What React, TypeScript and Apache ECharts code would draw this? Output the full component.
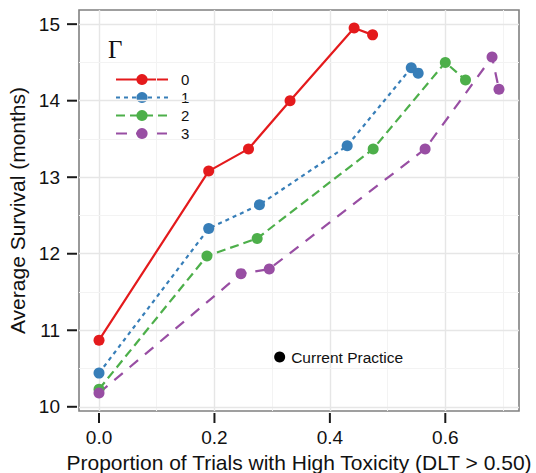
import React, { useEffect, useRef } from "react";
import * as echarts from "echarts";

const seriesNames = ["0", "1", "2", "3"];
const seriesColors = ["#E41A1C", "#377EB8", "#4DAF4A", "#984EA3"];
const seriesDashes: (string | number[])[] = ["solid", [4, 4], [9, 5], [11, 9]];

const gamma0X = [0.0, 0.19, 0.259, 0.331, 0.442, 0.474];
const gamma0Y = [10.87, 13.08, 13.37, 14.0, 14.95, 14.86];
const gamma1X = [0.0, 0.19, 0.278, 0.43, 0.541, 0.553];
const gamma1Y = [10.44, 12.33, 12.64, 13.41, 14.43, 14.36];
const gamma2X = [0.0, 0.187, 0.274, 0.475, 0.6, 0.635];
const gamma2Y = [10.23, 11.97, 12.2, 13.37, 14.5, 14.27];
const gamma3X = [0.0, 0.246, 0.295, 0.565, 0.681, 0.693];
const gamma3Y = [10.18, 11.74, 11.8, 13.37, 14.57, 14.15];

const currentPracticeX = [0.313];
const currentPracticeY = [10.65];
const currentPracticeLabel = "Current Practice";

const xTicks = [0, 0.2, 0.4, 0.6];
const xMinorGrid = [0.1, 0.3, 0.5, 0.7];
const yTicks = [10, 11, 12, 13, 14, 15];
const yMinorGrid = [10.5, 11.5, 12.5, 13.5, 14.5];
const xRange = [-0.0347, 0.7277];
const yRange = [9.945, 15.185];

const xTitle = "Proportion of Trials with High Toxicity (DLT > 0.50)";
const yTitle = "Average Survival (months)";
const legendTitle = "Γ";

const FONT = "'Liberation Sans', Arial, Helvetica, sans-serif";

export default function App() {
  const ref = useRef<HTMLDivElement>(null);
  useEffect(() => {
    if (!ref.current) return;
    const chart = echarts.init(ref.current, undefined, { renderer: "svg" });
    const xs = [gamma0X, gamma1X, gamma2X, gamma3X];
    const ys = [gamma0Y, gamma1Y, gamma2Y, gamma3Y];

    const gridLines: any[] = [];
    xTicks.forEach((v) => gridLines.push({ xAxis: v, lineStyle: { color: "#e6e6e6", width: 1.4, type: "solid" } }));
    xMinorGrid.forEach((v) => gridLines.push({ xAxis: v, lineStyle: { color: "#f3f3f3", width: 1, type: "solid" } }));
    yTicks.forEach((v) => gridLines.push({ yAxis: v, lineStyle: { color: "#e6e6e6", width: 1.4, type: "solid" } }));
    yMinorGrid.forEach((v) => gridLines.push({ yAxis: v, lineStyle: { color: "#f3f3f3", width: 1, type: "solid" } }));

    const dataSeries = seriesNames.map((name, i) => ({
      name,
      type: "line",
      data: xs[i].map((x, j) => [x, ys[i][j]]),
      symbol: "circle",
      symbolSize: 11,
      showSymbol: true,
      color: seriesColors[i],
      itemStyle: { color: seriesColors[i], opacity: 1 },
      lineStyle: { color: seriesColors[i], width: 2.2, type: seriesDashes[i] },
      z: 5,
    }));

    const tickStyle = { stroke: "#1a1a1a", lineWidth: 2 };

    const option: any = {
      animation: false,
      textStyle: { fontFamily: FONT },
      grid: {
        left: 79,
        right: 17,
        top: 10,
        bottom: 62,
        show: true,
        borderColor: "#808080",
        borderWidth: 1.6,
        backgroundColor: "transparent",
        containLabel: false,
        outerBoundsMode: "none",
      },
      legend: {
        orient: "vertical",
        left: 110,
        top: 67,
        itemWidth: 52,
        itemHeight: 14,
        itemGap: 3,
        data: seriesNames,
        textStyle: { fontSize: 15, lineHeight: 14, color: "#111", fontFamily: FONT, padding: [0, 0, 0, 8] },
      },
      graphic: [
        {
          type: "text",
          left: 108,
          top: 37,
          style: { text: legendTitle, font: "25px 'Liberation Serif', 'DejaVu Serif', serif", fill: "#111" },
        },
      ],
      xAxis: {
        type: "value",
        min: xRange[0],
        max: xRange[1],
        offset: 2,
        axisLine: { show: false },
        axisTick: { show: false },
        axisLabel: {
          customValues: xTicks,
          formatter: (v: number) => v.toFixed(1),
          fontSize: 19,
          color: "#111",
          margin: 15,
          fontFamily: FONT,
        },
        splitLine: { show: false },
        name: xTitle,
        nameLocation: "middle",
        nameGap: 37,
        nameTextStyle: { fontSize: 21, color: "#111", fontFamily: FONT },
      },
      yAxis: {
        type: "value",
        min: yRange[0],
        max: yRange[1],
        offset: 2,
        axisLine: { show: false },
        axisTick: { show: false },
        axisLabel: {
          customValues: yTicks,
          formatter: (v: number) => String(Math.round(v)),
          fontSize: 19,
          color: "#111",
          margin: 17,
          fontFamily: FONT,
        },
        splitLine: { show: false },
        name: yTitle,
        nameLocation: "middle",
        nameGap: 46,
        nameTextStyle: { fontSize: 21, color: "#111", fontFamily: FONT },
      },
      series: [
        {
          name: "grid",
          type: "line",
          data: [],
          silent: true,
          z: 1,
          markLine: {
            silent: true,
            symbol: ["none", "none"],
            label: { show: false },
            emphasis: { disabled: true },
            data: gridLines,
          },
        },
        {
          name: "xticks",
          type: "custom",
          silent: true,
          clip: false,
          data: xTicks.map((v) => [v, yRange[0]]),
          renderItem: (params: any, api: any) => {
            const p = api.coord([api.value(0), api.value(1)]);
            return { type: "line", shape: { x1: p[0], y1: p[1] + 2, x2: p[0], y2: p[1] + 12 }, style: tickStyle };
          },
          z: 3,
        },
        {
          name: "yticks",
          type: "custom",
          silent: true,
          clip: false,
          data: yTicks.map((v) => [xRange[0], v]),
          renderItem: (params: any, api: any) => {
            const p = api.coord([api.value(0), api.value(1)]);
            return { type: "line", shape: { x1: p[0] - 2, y1: p[1], x2: p[0] - 12, y2: p[1] }, style: tickStyle };
          },
          z: 3,
        },
        ...dataSeries,
        {
          name: "current",
          type: "scatter",
          data: currentPracticeX.map((x, j) => [x, currentPracticeY[j]]),
          symbol: "circle",
          symbolSize: 11,
          itemStyle: { color: "#000", opacity: 1 },
          label: {
            show: true,
            position: "right",
            distance: 6,
            formatter: currentPracticeLabel,
            fontSize: 15.5,
            color: "#111",
            fontFamily: FONT,
          },
          z: 5,
        },
      ],
    };
    chart.setOption(option);
    return () => chart.dispose();
  }, []);
  return <div ref={ref} style={{ width: 536, height: 473, position: "absolute", left: 0, top: 0 }} />;
}
